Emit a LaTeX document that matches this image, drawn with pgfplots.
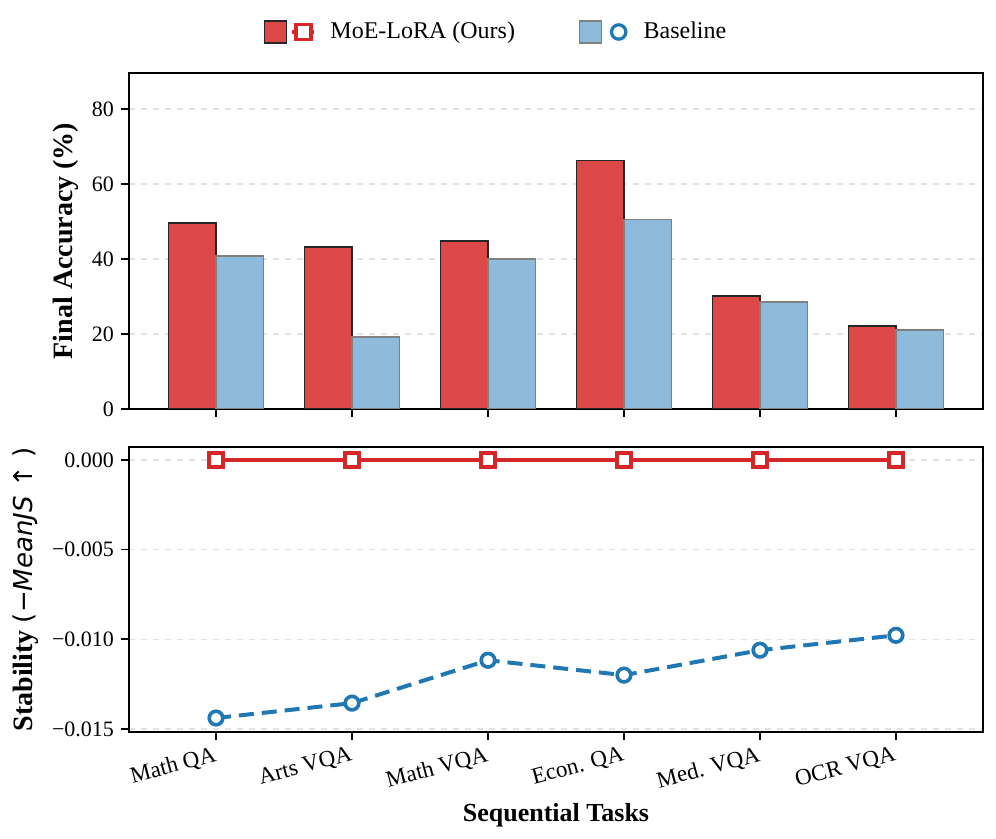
\documentclass[border=0pt]{standalone}
\usepackage{fontspec}
\setmainfont{Liberation Serif}
\newfontfamily\dejavu{DejaVu Sans}
\usepackage{pgfplots}
\usepackage{pgfplotstable}
\pgfplotsset{compat=1.18}

\definecolor{myred}{HTML}{D62728}
\definecolor{myblue}{HTML}{1F77B4}
\definecolor{barred}{HTML}{DC4748}
\definecolor{barblue}{HTML}{8FBBDA}
\definecolor{edgered}{HTML}{262626}
\definecolor{edgeblue}{HTML}{808080}
\definecolor{gridgray}{HTML}{E2E2E2}

% final accuracy (%)
\pgfplotstableread{
x ours base
0 49.6 40.8
1 43.2 19.2
2 44.8 40.0
3 66.2 50.6
4 30.1 28.5
5 22.1 21.1
}\accdata

% stability (-mean JS)
\pgfplotstableread{
x ours base
0 0 -0.01439
1 0 -0.01356
2 0 -0.01117
3 0 -0.01200
4 0 -0.01061
5 0 -0.00978
}\stabdata

\begin{document}
\begin{tikzpicture}
\pgfplotsset{
  common/.style={
    scale only axis, width=427pt,
    xmin=-0.64, xmax=5.64,
    xtick={0,...,5},
    tick align=outside, xtick pos=bottom, ytick pos=left,
    axis line style={line width=0.9pt},
    major tick length=4pt,
    tick style={line width=0.8pt, black},
    ymajorgrids, grid style={dashed, gridgray, line width=0.6pt},
    tick label style={font=\fontsize{11}{13}\selectfont},
    label style={font=\fontsize{13}{15}\selectfont\bfseries},
    ylabel style={font=\fontsize{14}{16}\selectfont\bfseries},
    /pgf/number format/assume math mode=true,
  },
}
\begin{axis}[common, name=top, height=168pt,
    ymin=0, ymax=89.6, ytick={0,20,...,80},
    xticklabels={},
    ylabel={Final Accuracy (\%)},
    legend columns=2,
    legend style={at={(0.431,1)}, anchor=center, yshift=20.5pt, draw=none,
      font=\fontsize{12}{14}\selectfont,
      /tikz/every even column/.append style={column sep=30pt}},
  ]
  \addplot[ybar, bar width=0.35, bar shift=-0.175, fill=barred, draw=edgered, line width=0.7pt,
    legend image code/.code={
      \draw[fill=barred, draw=edgered, line width=0.6pt] (0pt,-5.5pt) rectangle (11pt,5.5pt);
      \draw[myred, line width=2pt] (14pt,0pt) -- (25pt,0pt);
      \node[draw=myred, fill=white, line width=1.6pt, minimum size=7.5pt, inner sep=0pt] at (19.5pt,0pt) {};
      \path[draw=none, fill=none] (0pt,0pt) -- (31pt,0pt);
    }] table[x=x, y=ours] {\accdata};
  \addlegendentry{MoE-LoRA (Ours)}
  \addplot[ybar, bar width=0.35, bar shift=0.175, fill=barblue, draw=edgeblue, line width=0.7pt,
    legend image code/.code={
      \draw[fill=barblue, draw=edgeblue, line width=0.6pt] (0pt,-5.5pt) rectangle (11pt,5.5pt);
      \draw[myblue, fill=white, line width=1.6pt] (19.5pt,0pt) circle (3.6pt);
      \path[draw=none, fill=none] (0pt,0pt) -- (30pt,0pt);
    }] table[x=x, y=base] {\accdata};
  \addlegendentry{Baseline}
\end{axis}

\begin{axis}[common, at={(top.south west)}, anchor=north west, yshift=-19pt,
    height=142.5pt,
    ymin=-0.01517, ymax=0.00072,
    ytick={-0.015,-0.01,-0.005,0},
    yticklabels={−0.015,−0.010,−0.005,0.000},
    scaled y ticks=false,
    xticklabels={Math QA, Arts VQA, Math VQA, Econ. QA, Med. VQA, OCR VQA},
    xticklabel style={rotate=15, anchor=north east, inner sep=2pt, font=\fontsize{11.5}{13}\selectfont},
    xlabel={Sequential Tasks},
    ylabel={Stability {\dejavu\mdseries\fontsize{13}{15}\selectfont(−\textit{MeanJS}\ ↑\ )}},
  ]
  \addplot[myred, line width=2pt, mark=square*, mark size=3.4pt,
    mark options={fill=white, draw=myred, line width=1.8pt, solid}]
    table[x=x, y=ours] {\stabdata};
  \addplot[myblue, line width=2pt, dash pattern=on 7.5pt off 4pt, mark=*, mark size=3.4pt,
    mark options={fill=white, draw=myblue, line width=1.8pt, solid}]
    table[x=x, y=base] {\stabdata};
\end{axis}

% page margins as in the reference
\path (top.north west) ++(-64.5pt,36.5pt);
\path (top.north west) ++(433.5pt,-383pt);
\end{tikzpicture}
\end{document}
